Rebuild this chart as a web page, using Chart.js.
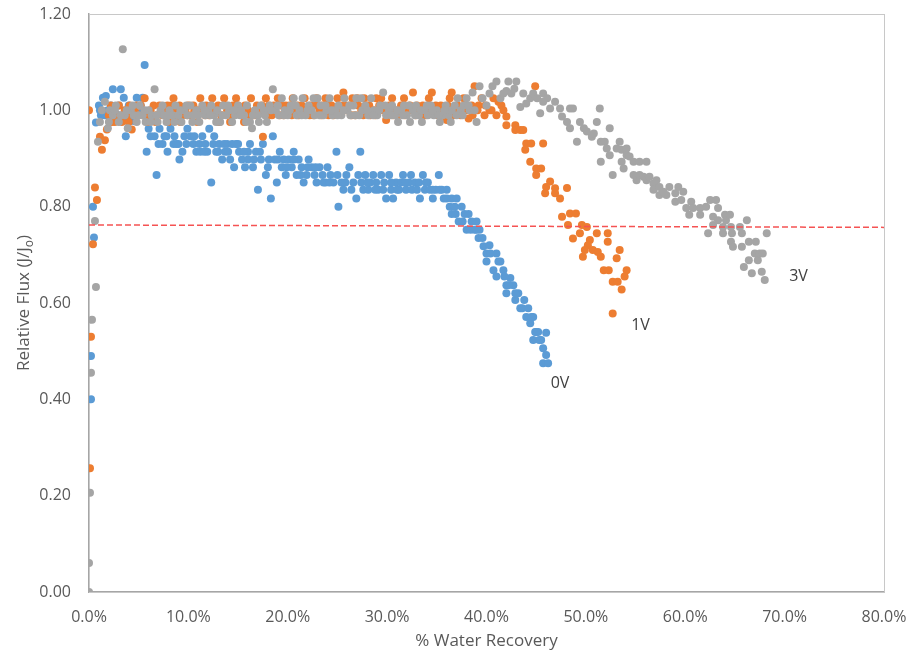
<!DOCTYPE html>
<html>
<head>
<meta charset="utf-8">
<title>Relative Flux vs Water Recovery</title>
<script src="https://cdn.jsdelivr.net/npm/chart.js@4.4.1/dist/chart.umd.min.js"></script>
<style>
  html, body { margin: 0; padding: 0; background: #ffffff; }
  #wrap { width: 911px; height: 655px; }
</style>
</head>
<body>
<div id="wrap"><canvas id="flux" width="911" height="655"></canvas></div>
<script>
// x = % water recovery, y = relative flux J/Jo
const flux0V = [
  [0.2,0.40],[0.2,0.49],[0.5,0.736],[0.4,0.80],[0.7,0.975],[1.0,1.01],[1.2,0.99],[1.4,1.026],[1.7,1.03],[1.9,1.00],
  [2.2,1.01],[2.4,1.044],[2.7,0.99],[3.0,1.01],[3.2,1.044],[3.5,1.026],[3.7,0.946],[3.9,0.978],[4.2,0.994],[4.5,0.978],
  [4.8,1.026],[5.1,0.994],[5.4,1.026],[5.6,1.094],[5.8,0.914],[6.0,0.962],[6.3,0.978],[6.6,0.946],[6.8,0.866],[7.1,0.962],
  [7.4,0.93],[7.6,0.946],[7.9,0.914],[8.2,0.962],[8.5,0.93],[8.8,0.93],[9.1,0.898],[9.4,0.914],[9.6,0.946],[9.9,0.962],
  [10.2,0.946],[10.5,0.93],[10.8,0.914],[11.1,0.93],[11.4,0.946],[11.7,0.93],[11.9,0.914],[12.1,0.962],[12.3,0.85],[12.5,0.93],
  [12.8,0.914],[13.1,0.93],[13.4,0.898],[13.7,0.914],[13.9,0.93],[14.2,0.898],[14.6,0.882],[14.8,0.93],[15.1,0.914],[15.4,0.898],
  [15.7,0.882],[16.0,0.914],[16.2,0.93],[16.5,0.882],[16.8,0.914],[17.0,0.835],[17.3,0.898],[17.5,0.93],[17.8,0.866],[18.1,0.898],
  [18.3,0.817],[18.5,0.946],[18.7,0.898],[18.9,0.85],[19.2,0.914],[19.4,0.882],[19.6,0.898],[19.8,0.866],[20.1,0.898],[20.4,0.882],
  [20.6,0.914],[20.9,0.866],[21.1,0.898],[21.4,0.882],[21.6,0.85],[21.9,0.866],[22.1,0.898],[22.4,0.882],[22.7,0.866],[22.9,0.85],
  [23.2,0.882],[23.5,0.866],[23.8,0.85],[24.0,0.882],[24.3,0.866],[24.6,0.85],[24.9,0.914],[25.1,0.80],[25.4,0.85],[25.6,0.835],
  [25.9,0.866],[26.2,0.882],[26.4,0.835],[26.9,0.817],[27.1,0.866],[27.3,0.914],[27.6,0.835],[27.8,0.866],[28.1,0.835],[28.3,0.85],
  [28.6,0.866],[28.9,0.85],[29.1,0.835],[29.4,0.866],[29.7,0.85],[29.9,0.817],[30.2,0.866],[30.4,0.835],[30.6,0.817],[30.9,0.85],
  [31.2,0.835],[31.4,0.85],[31.6,0.866],[31.9,0.835],[32.2,0.85],[32.5,0.835],[32.8,0.85],[33.0,0.835],[33.3,0.817],[33.6,0.866],
  [33.8,0.835],[34.1,0.85],[34.3,0.835],[34.6,0.817],[34.9,0.835],[35.2,0.866],[35.5,0.835],[35.7,0.817],[36.0,0.835],[36.3,0.80],
  [36.5,0.817],[36.5,0.785],[36.8,0.80],[37.0,0.817],[37.2,0.769],[37.5,0.80],[37.8,0.785],[38.0,0.752],[38.2,0.785],[38.5,0.769],
  [38.8,0.752],[39.0,0.769],[39.2,0.735],[39.3,0.752],[39.7,0.718],[40.0,0.703],[40.0,0.686],[40.3,0.72],[40.7,0.668],[41.0,0.703],
  [41.0,0.655],[41.4,0.686],[41.7,0.668],[42.0,0.637],[42.0,0.62],[42.4,0.652],[42.7,0.637],[42.9,0.606],[43.2,0.62],[43.4,0.589],
  [43.8,0.606],[44.0,0.571],[44.4,0.558],[44.7,0.571],[44.7,0.523],[44.9,0.54],[45.2,0.54],[45.5,0.523],[45.7,0.506],[45.7,0.475],
  [46.0,0.538],[46.0,0.492],[46.2,0.475],
  [1.1,1.0],[1.6,0.99],[2.5,1.0],[3.0,0.99],[4.0,1.01],[4.6,0.99],[5.2,1.01],[6.2,0.946],[7.0,0.93],[7.8,0.946],
  [8.6,0.946],[9.0,0.93],[9.8,0.93],[10.6,0.946],[11.2,0.914],[11.6,0.914],[12.6,0.946],[13.0,0.914],[13.6,0.93],[14.0,0.914],
  [14.4,0.93],[15.0,0.93],[15.6,0.914],[16.0,0.898],[16.6,0.898],[17.2,0.914],[18.0,0.882],[19.0,0.898],[19.9,0.882],[20.6,0.898],
  [21.3,0.866],[22.0,0.882],[22.8,0.882],[23.6,0.85],[24.2,0.85],[25.0,0.866],[25.8,0.85],[26.6,0.85],[27.4,0.85],[28.0,0.85],
  [28.8,0.835],[29.6,0.835],[30.4,0.85],[31.0,0.835],[31.8,0.85],[32.4,0.866],[33.2,0.85],[33.9,0.85],[34.6,0.835],[35.3,0.835],
  [36.0,0.817],[36.9,0.785],[37.6,0.769],[38.4,0.752],[39.0,0.752],[39.6,0.735],[40.4,0.703],[41.2,0.686],[41.8,0.655],[42.2,0.637],
  [42.9,0.62],[43.6,0.589],[44.2,0.589],[44.5,0.571],[45.0,0.54],[45.3,0.523]
];

const flux1V = [
  [0.0,1.00],[0.1,0.257],[0.2,0.53],[0.4,0.722],[0.6,0.84],[0.8,0.814],[1.1,0.945],[1.3,0.918],[1.6,0.938],[1.8,0.96],
  [2.0,0.99],[2.3,0.976],[2.5,1.0],[2.8,0.99],[3.0,1.01],[3.3,0.976],[3.6,1.0],[3.9,0.99],[4.1,1.01],[4.3,0.96],
  [4.6,1.0],[4.9,0.99],[5.2,1.01],[5.6,1.025],[5.9,0.976],[6.2,1.0],[6.5,1.01],[6.8,0.99],[7.1,1.01],[7.4,0.99],
  [7.7,1.0],[8.0,0.976],[8.3,1.01],[8.5,1.025],[8.8,1.0],[9.1,1.01],[9.4,0.99],[9.7,1.0],[10.0,1.01],[10.3,0.99],
  [10.6,1.0],[10.9,0.976],[11.2,1.025],[11.5,1.0],[11.8,1.01],[12.1,0.99],[12.4,1.025],[12.7,1.0],[13.0,1.01],[13.3,0.99],
  [13.6,1.025],[13.9,1.0],[14.2,0.976],[14.5,1.01],[14.8,1.025],[15.1,1.0],[15.4,0.99],[15.7,1.01],[16.0,1.0],[16.3,1.025],
  [16.6,0.99],[16.9,1.01],[17.2,1.0],[17.5,0.945],[17.8,1.025],[18.1,1.01],[18.4,0.99],[18.7,1.0],[19.0,1.025],[19.3,1.01],
  [19.6,0.99],[19.9,1.0],[20.2,1.01],[20.5,1.025],[20.8,1.0],[21.1,0.99],[21.4,1.01],[21.7,1.025],[22.0,1.0],[22.3,1.01],
  [22.6,0.99],[22.9,1.025],[23.2,1.0],[23.5,1.01],[23.8,1.025],[24.1,0.99],[24.4,1.01],[24.7,1.0],[25.0,1.025],[25.3,1.01],
  [25.6,1.037],[25.9,1.0],[26.2,1.01],[26.5,1.025],[26.8,0.99],[27.1,1.01],[27.4,1.0],[27.7,1.025],[28.0,1.01],[28.3,0.99],
  [28.6,1.0],[28.9,1.025],[29.2,1.01],[29.5,1.0],[29.9,0.98],[30.2,1.01],[30.5,1.025],[30.8,1.0],[31.1,0.99],[31.4,1.01],
  [31.7,1.025],[32.0,1.0],[32.3,1.01],[32.6,1.037],[32.9,0.99],[33.3,1.0],[33.6,1.01],[33.9,0.99],[34.2,1.025],[34.5,1.037],
  [34.8,1.0],[35.1,0.99],[35.4,1.01],[35.7,1.0],[36.0,0.98],[36.3,1.025],[36.5,1.037],[36.8,1.0],[37.1,1.01],[37.4,0.99],
  [37.7,1.025],[38.0,1.0],[38.2,0.983],[38.5,1.01],[38.8,1.05],[39.1,1.0],[39.5,1.025],[39.9,1.01],[40.3,1.0],[40.7,1.025],
  [41.0,0.99],[41.2,1.018],[41.5,1.01],[41.7,1.0],[42.0,0.987],[42.0,0.969],[42.9,0.969],[42.9,0.959],[43.4,0.959],[43.7,0.959],
  [44.0,0.931],[44.5,0.931],[44.9,1.05],[45.7,0.931],[43.9,0.918],[44.4,0.893],[45.0,0.879],[45.5,0.879],[45.0,0.866],[46.4,0.852],
  [46.9,0.838],[46.0,0.841],[48.1,0.839],[45.9,0.828],[46.9,0.828],[47.4,0.817],[47.6,0.779],[48.4,0.786],[49.0,0.786],[48.2,0.762],
  [49.6,0.762],[50.1,0.758],[48.7,0.734],[49.4,0.745],[50.4,0.731],[51.1,0.745],[52.2,0.745],[50.2,0.72],[49.9,0.71],[50.7,0.71],
  [49.7,0.696],[51.2,0.706],[51.5,0.696],[52.2,0.727],[53.4,0.71],[53.1,0.693],[51.8,0.668],[52.3,0.668],[54.1,0.668],[53.9,0.655],
  [52.7,0.644],[53.2,0.644],[53.6,0.628],[52.7,0.578],
  [2.2,1.01],[2.6,0.976],[3.4,0.99],[4.0,0.976],[4.8,1.01],[5.4,0.99],[6.0,0.99],[6.7,0.976],[7.3,1.0],[7.9,1.01],
  [8.6,0.99],[9.2,0.976],[9.9,0.99],[10.5,1.01],[11.0,1.0],[11.7,0.99],[12.3,1.0],[13.1,0.976],[13.8,1.01],[14.4,0.99],
  [15.0,1.01],[15.6,0.976],[16.2,0.99],[16.8,1.0],[17.4,1.01],[18.0,0.99],[18.6,1.01],[19.2,0.99],[19.8,1.01],[20.4,0.99],
  [21.0,1.01],[21.6,1.0],[22.2,0.99],[22.8,1.01],[23.4,0.99],[24.0,1.01],[24.6,0.99],[25.2,1.0],[25.8,1.01],[26.4,0.99],
  [27.0,1.025],[27.6,0.99],[28.2,1.01],[28.8,0.99],[29.4,1.025],[30.0,1.0],[30.6,0.99],[31.2,1.0],[31.8,0.99],[32.4,1.0],
  [33.0,1.01],[33.6,0.99],[34.2,1.0],[34.9,1.01],[35.5,0.99],[36.1,1.01],[36.7,0.99],[37.3,1.0],[37.9,1.01],[38.6,0.99],
  [39.2,1.01],[39.8,0.99],[40.5,1.0]
];

const flux3V = [
  [0.0,0.0],[0.0,0.06],[0.1,0.206],[0.2,0.455],[0.3,0.565],[0.7,0.633],[0.6,0.77],[0.9,0.935],[1.1,0.976],[1.3,1.0],
  [1.6,1.018],[1.9,0.963],[2.1,1.0],[2.4,0.99],[2.7,1.01],[3.0,0.976],[3.4,1.127],[3.6,0.99],[3.9,0.963],[4.2,1.0],
  [4.5,0.99],[4.8,0.976],[5.1,1.01],[5.4,0.99],[5.7,0.976],[6.0,1.0],[6.3,0.99],[6.6,1.044],[6.9,0.976],[7.2,1.0],
  [7.5,0.99],[7.8,0.976],[8.1,1.0],[8.4,0.99],[8.7,1.01],[9.0,0.99],[9.3,0.976],[9.6,1.0],[9.9,0.99],[10.2,1.01],
  [10.5,0.99],[10.8,1.0],[11.1,0.976],[11.4,1.01],[11.7,0.99],[12.0,1.0],[12.3,1.01],[12.6,0.99],[12.9,1.0],[13.2,0.976],
  [13.5,1.01],[13.8,0.99],[14.1,1.0],[14.4,0.976],[14.7,0.99],[15.0,1.01],[15.3,1.0],[15.6,0.99],[15.9,1.01],[16.2,0.976],
  [16.4,0.963],[16.7,1.0],[17.0,0.99],[17.3,1.01],[17.6,1.0],[17.9,0.976],[18.2,1.01],[18.5,1.044],[18.8,1.0],[19.1,0.99],
  [19.4,1.025],[19.7,1.0],[20.0,0.99],[20.3,1.01],[20.6,1.025],[20.9,0.99],[21.2,1.0],[21.5,1.025],[21.8,0.99],[22.1,1.01],
  [22.4,1.0],[22.7,0.99],[23.0,1.025],[23.3,1.01],[23.6,0.99],[23.9,1.0],[24.2,1.025],[24.5,0.99],[24.8,1.0],[25.1,1.01],
  [25.4,0.99],[25.7,1.025],[26.0,1.0],[26.3,0.99],[26.6,1.01],[26.9,1.025],[27.2,0.99],[27.5,1.0],[27.8,1.01],[28.1,0.99],
  [28.4,1.025],[28.7,1.0],[29.0,0.99],[29.3,1.01],[29.6,1.037],[29.9,0.99],[30.2,1.0],[30.5,1.01],[30.8,0.99],[31.1,0.976],
  [31.4,1.0],[31.7,1.01],[32.0,0.99],[32.3,0.976],[32.6,1.0],[32.9,1.01],[33.2,0.99],[33.5,0.976],[33.8,1.0],[34.1,0.99],
  [34.4,1.01],[34.7,0.99],[35.0,1.0],[35.3,0.976],[35.6,0.99],[35.9,1.01],[36.2,0.99],[36.5,1.0],[36.8,1.01],[37.1,1.025],
  [37.4,1.0],[37.7,1.01],[38.0,1.025],[38.3,1.0],[38.6,1.037],[39.0,0.976],[39.3,1.05],[39.6,1.025],[40.0,1.01],[40.3,1.035],
  [40.6,1.05],[41.0,1.06],[41.4,1.025],[41.7,1.035],[42.0,1.04],[42.2,1.06],[42.5,1.035],[42.8,1.045],[43.0,1.06],[43.4,1.007],
  [43.7,1.035],[44.0,1.014],[44.4,1.025],[44.7,1.035],[45.1,1.025],[45.4,0.994],[45.7,1.035],[45.7,1.018],[46.1,1.025],[46.4,1.004],
  [46.9,1.018],[47.4,1.004],[47.6,0.987],[48.1,0.976],[48.4,1.004],[48.4,0.963],[48.7,1.004],[49.1,0.935],[49.4,0.976],[49.8,0.963],
  [50.1,0.956],[50.6,0.945],[50.8,0.952],[51.1,0.976],[51.4,1.004],[51.5,0.935],[51.5,0.893],[51.9,0.935],[52.1,0.921],[52.4,0.963],
  [52.4,0.907],[52.7,0.866],[53.1,0.921],[53.4,0.935],[53.6,0.918],[53.6,0.893],[53.8,0.879],[54.1,0.921],[54.1,0.907],[54.4,0.904],
  [54.8,0.893],[54.8,0.866],[55.1,0.855],[55.4,0.893],[55.4,0.866],[55.8,0.862],[56.1,0.893],[56.1,0.855],[56.4,0.862],[56.8,0.848],
  [56.8,0.835],[57.1,0.855],[57.4,0.841],[57.4,0.824],[57.8,0.831],[58.1,0.824],[58.4,0.841],[59.0,0.828],[59.0,0.81],[59.3,0.841],
  [59.6,0.814],[59.8,0.831],[60.1,0.797],[60.4,0.783],[60.6,0.81],[60.8,0.797],[61.5,0.797],[61.5,0.783],[62.1,0.80],[62.3,0.745],
  [62.5,0.814],[62.8,0.779],[62.8,0.762],[63.1,0.814],[63.3,0.797],[63.3,0.772],[63.8,0.758],[63.8,0.745],[64.0,0.783],[64.1,0.772],
  [64.5,0.783],[64.6,0.758],[64.6,0.727],[64.7,0.745],[64.8,0.717],[65.5,0.758],[65.7,0.745],[65.7,0.717],[65.9,0.675],[66.2,0.772],
  [66.4,0.727],[66.4,0.689],[66.7,0.662],[67.0,0.703],[67.1,0.727],[67.3,0.689],[67.5,0.703],[67.7,0.665],[67.8,0.703],[68.0,0.648],
  [68.2,0.745],
  [2.0,0.976],[2.6,1.0],[3.2,0.99],[3.8,1.0],[4.4,1.01],[5.0,0.99],[5.6,1.0],[6.2,0.976],[6.8,0.99],[7.4,1.01],
  [8.0,0.99],[8.6,0.976],[9.2,1.0],[9.8,1.01],[10.4,0.976],[11.0,0.99],[11.6,1.0],[12.2,0.99],[12.8,0.976],[13.4,0.99],
  [14.0,1.01],[14.6,1.0],[15.2,0.99],[15.8,0.976],[16.5,0.99],[17.1,0.976],[17.7,0.99],[18.3,1.0],[19.0,1.01],[19.6,0.99],
  [20.2,1.0],[20.8,1.01],[21.4,0.99],[22.0,1.0],[22.6,1.025],[23.2,0.99],[23.8,1.01],[24.4,1.0],[25.0,0.99],[25.6,1.0],
  [26.2,1.01],[26.8,0.99],[27.4,1.025],[28.0,1.0],[28.6,0.99],[29.2,1.0],[29.8,1.01],[30.4,0.99],[31.0,1.0],[31.6,0.99],
  [32.2,1.01],[32.8,0.99],[33.4,1.0],[34.0,1.01],[34.6,1.0],[35.2,0.99],[35.8,1.0],[36.4,0.976],[37.0,0.99],[37.6,0.99],
  [38.2,1.01],[38.8,1.0]
];

// dashed reference line
const refLine = [[0, 0.762], [80, 0.757]];

// series labels placed next to the curves
const seriesLabels = [
  { text: '0V', x: 47.4, y: 0.434 },
  { text: '1V', x: 55.5, y: 0.554 },
  { text: '3V', x: 71.4, y: 0.656 }
];

const xTicks = [0, 10, 20, 30, 40, 50, 60, 70, 80];
const yTicks = [0, 0.2, 0.4, 0.6, 0.8, 1.0, 1.2];

const BLUE = '#5B9BD5';
const ORANGE = '#ED7D31';
const GRAY = '#A5A5A5';
const TEXT = '#595959';
const FONT = '"Open Sans", "Liberation Sans", sans-serif';

const toPoints = arr => arr.map(p => ({ x: p[0], y: p[1] }));

const annotate = {
  id: 'annotate',
  beforeDatasetsDraw(chart) {
    const a = chart.chartArea;
    const ctx = chart.ctx;
    ctx.save();
    ctx.strokeStyle = '#C8C8C8';
    ctx.lineWidth = 1;
    ctx.strokeRect(a.left + 0.5, a.top + 0.5, a.right - a.left, a.bottom - a.top);
    ctx.restore();
  },
  afterDraw(chart) {
    const ctx = chart.ctx;
    const xs = chart.scales.x, ys = chart.scales.y;
    const a = chart.chartArea;
    ctx.save();
    ctx.fillStyle = '#404040';
    ctx.font = '16px ' + FONT;
    ctx.textAlign = 'center';
    ctx.textBaseline = 'middle';
    seriesLabels.forEach(l => {
      ctx.fillText(l.text, xs.getPixelForValue(l.x), ys.getPixelForValue(l.y));
    });

    // x title
    ctx.fillStyle = TEXT;
    ctx.font = '17px ' + FONT;
    ctx.textBaseline = 'alphabetic';
    ctx.fillText('% Water Recovery', (a.left + a.right) / 2, 646);

    // y title with subscript o
    ctx.translate(29, (a.top + a.bottom) / 2);
    ctx.rotate(-Math.PI / 2);
    const main = 'Relative Flux (J/J';
    ctx.font = '17px ' + FONT;
    const w1 = ctx.measureText(main).width;
    ctx.font = '12px ' + FONT;
    const w2 = ctx.measureText('o').width;
    ctx.font = '17px ' + FONT;
    const w3 = ctx.measureText(')').width;
    const x0 = -(w1 + w2 + w3) / 2;
    ctx.textAlign = 'left';
    ctx.fillText(main, x0, 0);
    ctx.font = '12px ' + FONT;
    ctx.fillText('o', x0 + w1, 4);
    ctx.font = '17px ' + FONT;
    ctx.fillText(')', x0 + w1 + w2, 0);
    ctx.restore();
  }
};

new Chart(document.getElementById('flux').getContext('2d'), {
  type: 'scatter',
  data: {
    datasets: [
      {
        label: '0V', data: toPoints(flux0V), order: 3,
        backgroundColor: BLUE, borderWidth: 0, pointRadius: 4
      },
      {
        label: '1V', data: toPoints(flux1V), order: 2,
        backgroundColor: ORANGE, borderWidth: 0, pointRadius: 4
      },
      {
        label: '3V', data: toPoints(flux3V), order: 1,
        backgroundColor: GRAY, borderWidth: 0, pointRadius: 4
      },
      {
        type: 'line', label: 'ref', data: toPoints(refLine), order: 0,
        borderColor: '#F55353', borderWidth: 1.5, borderDash: [6, 3],
        pointRadius: 0, fill: false
      }
    ]
  },
  options: {
    responsive: false,
    animation: false,
    layout: { padding: { left: 0, right: 27, top: 14, bottom: 0 } },
    plugins: {
      legend: { display: false },
      tooltip: { enabled: false }
    },
    scales: {
      x: {
        type: 'linear', min: 0, max: 80,
        afterBuildTicks: s => { s.ticks = xTicks.map(v => ({ value: v })); },
        afterFit: s => { s.height = 63; s.paddingLeft = 0; s.paddingRight = 0; },
        grid: { display: false, drawTicks: false },
        border: { display: true, color: '#A6A6A6', width: 1.5 },
        ticks: {
          padding: 16, color: TEXT, font: { family: FONT, size: 16 },
          maxRotation: 0,
          callback: v => v.toFixed(1) + '%'
        }
      },
      y: {
        type: 'linear', min: 0, max: 1.2,
        afterBuildTicks: s => { s.ticks = yTicks.map(v => ({ value: v })); },
        afterFit: s => { s.width = 89; s.paddingTop = 0; s.paddingBottom = 0; },
        grid: { display: false, drawTicks: false },
        border: { display: true, color: '#A6A6A6', width: 1.5 },
        ticks: {
          padding: 18, color: TEXT, font: { family: FONT, size: 16 },
          callback: v => v.toFixed(2)
        }
      }
    }
  },
  plugins: [annotate]
});
</script>
</body>
</html>
